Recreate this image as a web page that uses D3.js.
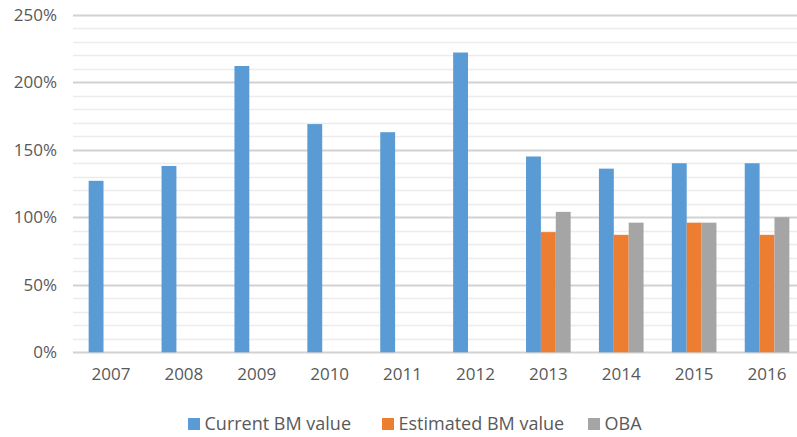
<!DOCTYPE html>
<html>
<head>
<meta charset="utf-8">
<script src="https://cdn.jsdelivr.net/npm/d3@7"></script>
<style>
  html, body { margin: 0; padding: 0; background: #fff; }
  svg { display: block; }
  text { font-family: "Open Sans", "Noto Sans", sans-serif; fill: #595959; }
</style>
</head>
<body>
<svg id="chart" width="797" height="437"></svg>
<script>
// Years on the category axis
const years = ["2007", "2008", "2009", "2010", "2011", "2012", "2013", "2014", "2015", "2016"];
// Series values, in percent (null = no bar)
const currentBM   = [127, 138, 212, 169, 163, 222, 145, 136, 140, 140];
const estimatedBM = [null, null, null, null, null, null, 89, 87, 96, 87];
const oba         = [null, null, null, null, null, null, 104, 96, 96, 100];
const seriesNames = ["Current BM value", "Estimated BM value", "OBA"];
const seriesColors = ["#5B9BD5", "#ED7D31", "#A5A5A5"];
const yTicks = [0, 50, 100, 150, 200, 250];

const series = [currentBM, estimatedBM, oba];

const svg = d3.select("#chart");
const plot = { left: 74.5, right: 803.5, top: 14.7, bottom: 352.3 };

const x = d3.scaleBand()
  .domain(years)
  .range([plot.left, plot.right])
  .paddingInner(0.388)
  .paddingOuter(0.194);

const xs = d3.scaleBand()
  .domain(d3.range(series.length))
  .range([0, x.bandwidth()]);

const y = d3.scaleLinear().domain([0, 250]).range([plot.bottom, plot.top]);

// Minor gridlines every 10%
const minor = d3.range(10, 250, 10).filter(v => v % 50 !== 0);
svg.append("g").selectAll("line").data(minor).join("line")
  .attr("x1", 73).attr("x2", 797)
  .attr("y1", d => Math.round(y(d)) + 0.5).attr("y2", d => Math.round(y(d)) + 0.5)
  .attr("stroke", "#ececec").attr("stroke-width", 1.5);

// Major gridlines every 50%
svg.append("g").selectAll("line").data(yTicks).join("line")
  .attr("x1", 73).attr("x2", 797)
  .attr("y1", d => Math.round(y(d)) + 0.5).attr("y2", d => Math.round(y(d)) + 0.5)
  .attr("stroke", "#d2d2d2").attr("stroke-width", 2);

// Y axis tick labels
const yAxis = d3.axisLeft(y).tickValues(yTicks).tickFormat(d => d + "%").tickSize(0).tickPadding(0);
const gy = svg.append("g").attr("transform", "translate(57,0)").call(yAxis);
gy.select(".domain").remove();
gy.selectAll("text")
  .attr("font-size", 17)
  .attr("font-family", "Open Sans, Noto Sans, sans-serif")
  .attr("fill", "#595959");

// Bars
series.forEach((vals, si) => {
  svg.append("g").selectAll("rect")
    .data(years.map((yr, i) => ({ yr, v: vals[i] })).filter(d => d.v != null))
    .join("rect")
    .attr("x", d => x(d.yr) + xs(si))
    .attr("width", xs.bandwidth())
    .attr("y", d => y(d.v))
    .attr("height", d => y(0) - y(d.v))
    .attr("fill", seriesColors[si]);
});

// X axis labels
const xAxis = d3.axisBottom(x).tickSize(0).tickPadding(0);
const gx = svg.append("g").attr("transform", "translate(0,367)").call(xAxis);
gx.select(".domain").remove();
gx.selectAll("text")
  .attr("font-size", 17)
  .attr("font-family", "Open Sans, Noto Sans, sans-serif")
  .attr("fill", "#595959")
  .attr("dy", "0.75em");

// Legend
const legendX = [188, 382, 588];
const legend = svg.append("g");
seriesNames.forEach((name, i) => {
  const g = legend.append("g").attr("transform", `translate(${legendX[i]},424)`);
  g.append("rect").attr("x", 0).attr("y", -6).attr("width", 12).attr("height", 12)
    .attr("fill", seriesColors[i]);
  g.append("text").attr("x", 16.5).attr("y", 0).attr("dy", "0.35em")
    .attr("font-size", 18).text(name);
});
</script>
</body>
</html>
